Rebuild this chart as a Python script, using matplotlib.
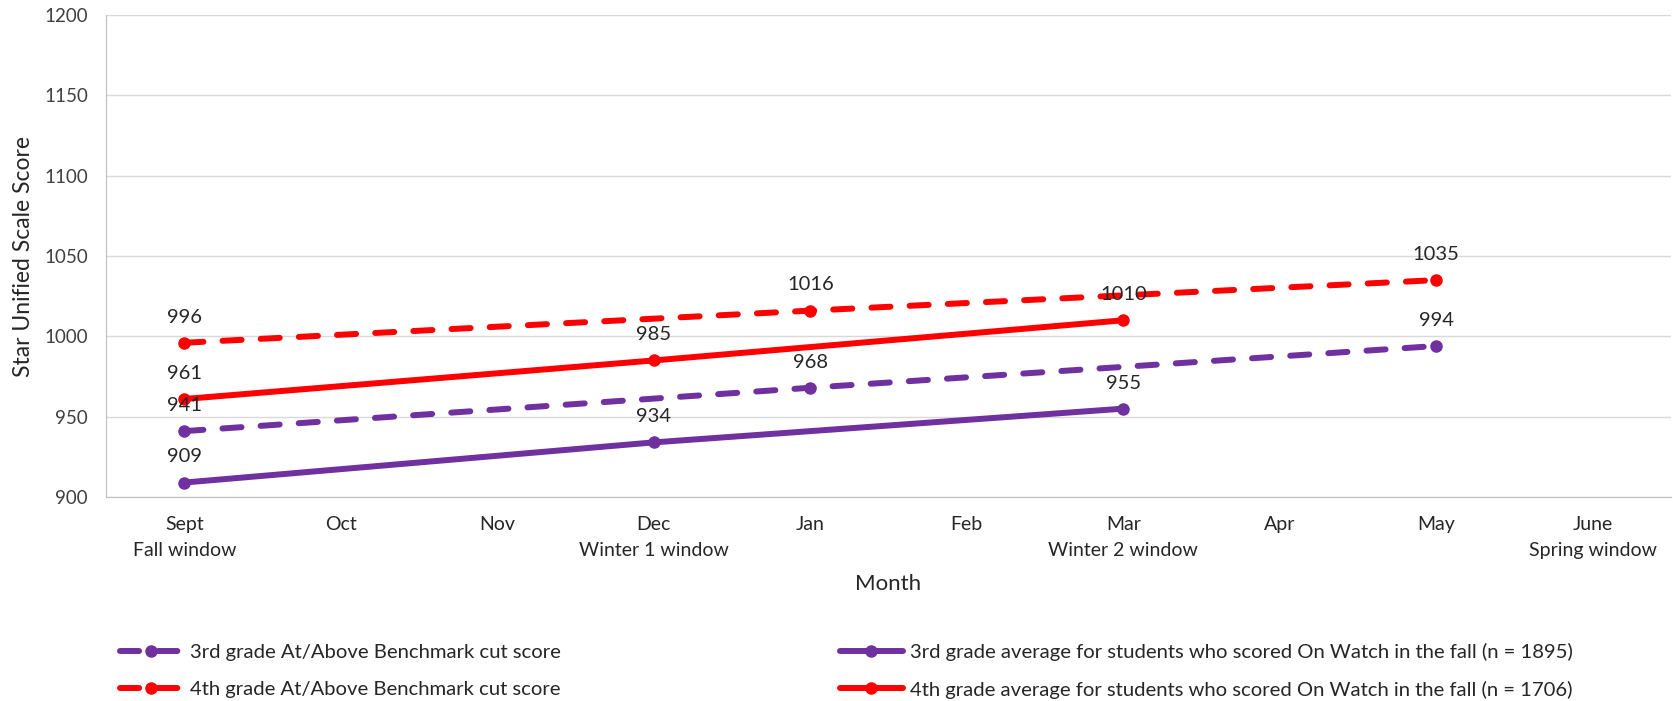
import matplotlib.pyplot as plt

plt.rcParams['font.family'] = ['Lato', 'DejaVu Sans']

# Month categories with the testing window under some of them
months = ['Sept', 'Oct', 'Nov', 'Dec', 'Jan', 'Feb', 'Mar', 'Apr', 'May', 'June']
windows = ['Fall window', '', '', 'Winter 1 window', '', '',
           'Winter 2 window', '', '', 'Spring window']

# Benchmark cut scores (Sept, Jan, May)
bench_months = ['Sept', 'Jan', 'May']
bench_3rd = [941, 968, 994]
bench_4th = [996, 1016, 1035]

# On Watch averages (Sept, Dec, Mar)
avg_months = ['Sept', 'Dec', 'Mar']
avg_3rd = [909, 934, 955]
avg_4th = [961, 985, 1010]

purple = '#7030A0'
red = '#FF0000'
txt = '#262626'

fig = plt.figure(figsize=(16.73, 7.01), dpi=100)
ax = fig.add_axes([0.0634, 0.291, 0.9354, 0.6876])


def pos(names):
    return [months.index(m) for m in names]


series = [
    (bench_months, bench_3rd, purple, '--',
     '3rd grade At/Above Benchmark cut score'),
    (bench_months, bench_4th, red, '--',
     '4th grade At/Above Benchmark cut score'),
    (avg_months, avg_3rd, purple, '-',
     '3rd grade average for students who scored On Watch in the fall (n = 1895)'),
    (avg_months, avg_4th, red, '-',
     '4th grade average for students who scored On Watch in the fall (n = 1706)'),
]

handles = []
for names, vals, col, ls, lab in series:
    xs = pos(names)
    line, = ax.plot(xs, vals, color=col, lw=4.3, ls=ls, marker='o',
                    markersize=8, label=lab, solid_capstyle='round',
                    dash_capstyle='round')
    if ls == '--':
        line.set_dashes((3.2, 3.2))
    handles.append(line)
    for x, v in zip(xs, vals):
        ax.annotate(str(v), (x, v), xytext=(0, 14.5), textcoords='offset points',
                    ha='center', va='baseline', fontsize=14.5, color=txt)

ax.set_xlim(-0.5, 9.5)
ax.set_ylim(900, 1200)
ax.set_yticks(range(900, 1201, 50))
ax.set_xticks(range(len(months)))
ax.set_xticklabels([m + '\n' + w for m, w in zip(months, windows)],
                   fontsize=14, color=txt, linespacing=1.6)
ax.tick_params(axis='y', labelsize=13.5, labelcolor='#404040', length=0, pad=13)
ax.tick_params(axis='x', length=0, pad=14)
ax.grid(axis='y', color='#D9D9D9', lw=1)
ax.set_axisbelow(True)
for s in ['top', 'right']:
    ax.spines[s].set_visible(False)
ax.spines['left'].set_color('#BFBFBF')
ax.spines['bottom'].set_color('#BFBFBF')

ax.set_ylabel('Star Unified Scale Score', fontsize=16.5, color=txt,
              labelpad=7)
ax.set_xlabel('Month', fontsize=16, color=txt, labelpad=11)

# two legend columns placed separately so each lines up with the reference
for hs, x0 in [(handles[0:2], 0.0717), (handles[2:4], 0.502)]:
    fig.legend(handles=hs, loc='center left', bbox_to_anchor=(x0, 0.043),
               frameon=False, fontsize=14.6, labelcolor=txt,
               handlelength=3.1, handletextpad=0.35, labelspacing=0.95,
               borderpad=0, borderaxespad=0)

fig.savefig('out.png', dpi=100)
